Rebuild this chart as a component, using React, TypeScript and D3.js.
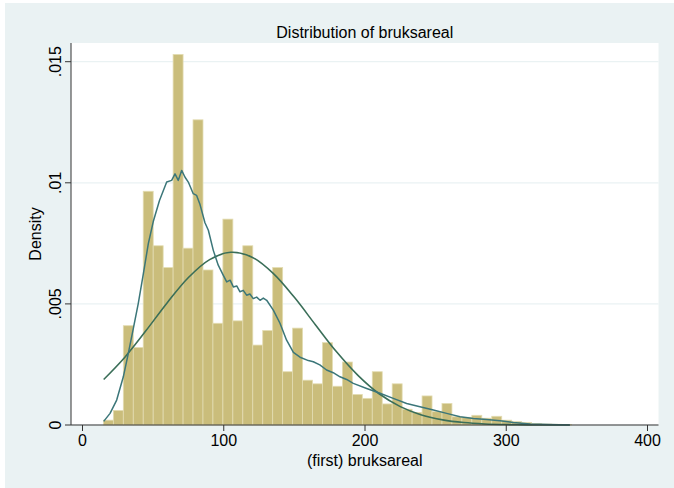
import React from "react";
import * as d3 from "d3";

const binStart = 14.8;
const binWidth = 7.05;
const barDensity = [
  0.0002, 0.0006, 0.0041, 0.0032, 0.00965, 0.0074, 0.0065, 0.0153, 0.0073, 0.0126,
  0.0064, 0.0042, 0.0085, 0.0043, 0.0074, 0.0033, 0.0039, 0.0065, 0.0022, 0.004,
  0.00185, 0.0017, 0.0034, 0.0016, 0.0026, 0.00126, 0.0011, 0.0022, 0.00087, 0.0017,
  0.00065, 0.00052, 0.0012, 0.00055, 0.00089, 0.00034, 0.00032, 0.0004, 0.00028, 0.00036,
  0.0002, 0.00014, 0.0001, 0.00006, 0.00004, 0.00003, 0.00002,
];

const kdeX = [
  15, 19.5, 24.2, 28.9, 32.4, 36, 39.5, 43.1, 46.6, 50.1, 54.5, 59.6, 63.1, 65.5, 67.8,
  70.2, 72.6, 74.9, 78.4, 80.8, 83.2, 86.7, 89.1, 92.6, 96.1, 99.7, 102.1, 104.5, 106.8, 109.2, 111.5,
  113.8, 116.2, 118.5, 120.9, 123.3, 125.7, 128, 130.4, 135.1, 139.8, 144.5, 149.3, 154, 159.9, 163.4, 168, 172.8, 177.5, 182.3,
  187, 191.7, 201.2, 210.6, 220, 229.5, 238.9, 248.4, 257.8, 267.3, 276.7, 286.1, 295.6, 305,
  316.8, 330, 345,
];
const kdeY = [
  0.00015, 0.00048, 0.00103, 0.00199, 0.00295, 0.00399, 0.00502, 0.00625, 0.00749, 0.0084,
  0.00927, 0.01003, 0.0101, 0.01037, 0.0101, 0.01051, 0.01023, 0.01003, 0.00955, 0.00948,
  0.0091, 0.00835, 0.00804, 0.00721, 0.0066, 0.00618, 0.00591, 0.00598, 0.0057, 0.00574, 0.0055,
  0.00556, 0.00536, 0.00541, 0.00522, 0.00528, 0.00515, 0.00524, 0.00515, 0.00474, 0.0042, 0.0035, 0.003, 0.0028, 0.00266, 0.00261,
  0.00248, 0.00227, 0.00216, 0.00199, 0.00188, 0.00172, 0.00151, 0.00131, 0.0011, 0.00089, 0.00075, 0.00062, 0.00048,
  0.00034, 0.00027, 0.00023, 0.00018, 0.0001, 0.00004, 0.00002, 0.000005,
];

const normX = [15, 30, 45, 60, 75, 90, 105, 120, 135, 150, 165, 180, 195, 210, 225, 240, 255, 270, 285, 300, 315, 330, 345];
const normY = [
  0.00188, 0.0028, 0.0039, 0.00505, 0.00609, 0.00683, 0.00713, 0.00693, 0.00626, 0.00527,
  0.00413, 0.00301, 0.00205, 0.00129, 0.00076, 0.000416, 0.000212, 0.0001, 0.000044,
  0.000018, 0.000007, 0.0000025, 0.000001,
];

const xTicks = [0, 100, 200, 300, 400];
const yTicks = [0, 0.005, 0.01, 0.015];
const yTickLabels = ["0", ".005", ".01", ".015"];

const title = "Distribution of bruksareal";
const xTitle = "(first) bruksareal";
const yTitle = "Density";

export default function App() {
  const W = 674;
  const H = 488;
  const plotL = 71;
  const plotR = 658.5;
  const plotT = 43;
  const plotB = 425;
  const x = d3.scaleLinear().domain([0, 400]).range([82.5, 647.5]);
  const y = d3.scaleLinear().domain([0, 0.015]).range([425, 61.7]);
  const font = "'Liberation Sans', Arial, Helvetica, sans-serif";
  const fs = 16;

  const kdeLine = d3
    .line<[number, number]>()
    .x((d) => x(d[0]))
    .y((d) => y(d[1]))
    .curve(d3.curveLinear);
  const normLine = d3
    .line<[number, number]>()
    .x((d) => x(d[0]))
    .y((d) => y(d[1]))
    .curve(d3.curveCatmullRom);

  const kdePts: [number, number][] = kdeX.map((v, i) => [v, kdeY[i]]);
  const normPts: [number, number][] = normX.map((v, i) => [v, normY[i]]);
  const bw = x(binWidth) - x(0);

  return (
    <svg
      width={W}
      height={H}
      style={{ position: "absolute", left: 0, top: 0 }}
      xmlns="http://www.w3.org/2000/svg"
    >
      <rect x={0} y={0} width={W} height={H} fill="#ffffff" />
      <rect x={5} y={3} width={W - 5} height={H - 3} fill="#eaf2f3" />
      <rect x={plotL} y={plotT} width={plotR - plotL} height={plotB - plotT} fill="#ffffff" />
      {yTicks.map((t) => (
        <line key={"g" + t} x1={plotL} x2={plotR} y1={y(t)} y2={y(t)} stroke="#eaf2f3" strokeWidth={1.2} />
      ))}
      {barDensity.map((v, i) => (
        <rect
          key={"b" + i}
          x={x(binStart + i * binWidth)}
          y={y(v)}
          width={bw}
          height={y(0) - y(v)}
          fill="#cabd7b"
          stroke="#e3dcb2"
          strokeWidth={0.8}
        />
      ))}
      <path d={normLine(normPts) || ""} fill="none" stroke="#3a6e58" strokeWidth={1.6} />
      <path d={kdeLine(kdePts) || ""} fill="none" stroke="#3b7679" strokeWidth={1.5} strokeLinejoin="round" />
      <line x1={plotL} x2={plotL} y1={plotT} y2={plotB} stroke="#333" strokeWidth={1} />
      <line x1={plotL} x2={plotR} y1={plotB} y2={plotB} stroke="#333" strokeWidth={1} />
      {yTicks.map((t, i) => (
        <g key={"yt" + t}>
          <line x1={plotL - 6} x2={plotL} y1={y(t)} y2={y(t)} stroke="#333" strokeWidth={1} />
          <text
            transform={`translate(${plotL - 10},${y(t)}) rotate(-90)`}
            textAnchor="middle"
            fontFamily={font}
            fontSize={fs}
            fill="#000"
          >
            {yTickLabels[i]}
          </text>
        </g>
      ))}
      {xTicks.map((t) => (
        <g key={"xt" + t}>
          <line x1={x(t)} x2={x(t)} y1={plotB} y2={plotB + 6} stroke="#333" strokeWidth={1} />
          <text x={x(t)} y={plotB + 21} textAnchor="middle" fontFamily={font} fontSize={fs} fill="#000">
            {t}
          </text>
        </g>
      ))}
      <text x={(plotL + plotR) / 2} y={38} textAnchor="middle" fontFamily={font} fontSize={fs} fill="#000">
        {title}
      </text>
      <text x={(plotL + plotR) / 2} y={466} textAnchor="middle" fontFamily={font} fontSize={fs} fill="#000">
        {xTitle}
      </text>
      <text
        transform={`translate(41,${(plotT + plotB) / 2}) rotate(-90)`}
        textAnchor="middle"
        fontFamily={font}
        fontSize={fs}
        fill="#000"
      >
        {yTitle}
      </text>
    </svg>
  );
}
